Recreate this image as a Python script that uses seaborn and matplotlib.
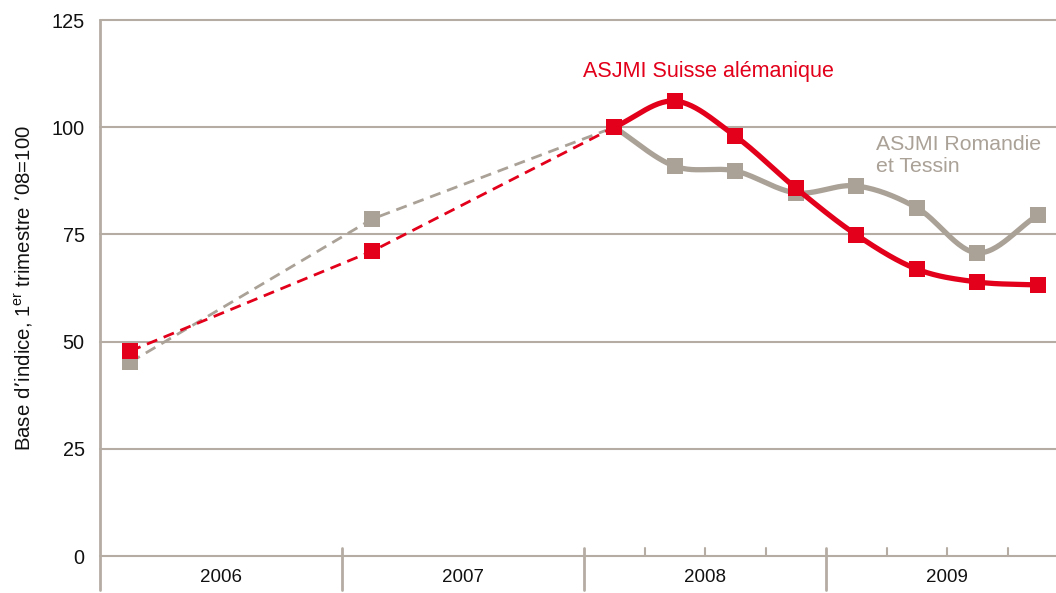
import numpy as np
import pandas as pd
import matplotlib
matplotlib.use('Agg')
import matplotlib.pyplot as plt
import matplotlib.transforms as mtransforms
import seaborn as sns

# Données (base 1er trimestre 2008 = 100)
periods = ["2006T1", "2007T1", "2008T1", "2008T2", "2008T3", "2008T4",
           "2009T1", "2009T2", "2009T3", "2009T4"]
suisse_alemanique = [47.8, 71.1, 100, 106.1, 97.9, 85.8, 74.9, 66.9, 63.9, 63.2]
romandie_tessin = [45.2, 78.6, 100, 90.9, 89.8, 84.7, 86.3, 81.2, 70.7, 79.5]
year_labels = ["2006", "2007", "2008", "2009"]
yticks = [0, 25, 50, 75, 100, 125]

RED = "#e2001a"
GREY = "#aaa197"
GRID = "#b5ada4"


def quarter_pos(p):
    y, q = int(p[:4]), int(p[-1])
    return (y - 2006) * 4 + (q - 1) + 0.5


def catmull_rom(x, y, n=30):
    # courbe lissée passant par les points (pour le tracé uniquement)
    x = np.asarray(x, float)
    y = np.asarray(y, float)
    px = np.concatenate([[2 * x[0] - x[1]], x, [2 * x[-1] - x[-2]]])
    py = np.concatenate([[2 * y[0] - y[1]], y, [2 * y[-1] - y[-2]]])
    xs, ys = [], []
    t = np.linspace(0, 1, n)
    for i in range(1, len(px) - 2):
        for arr, out in ((px, xs), (py, ys)):
            p0, p1, p2, p3 = arr[i - 1], arr[i], arr[i + 1], arr[i + 2]
            out.append(0.5 * ((2 * p1) + (-p0 + p2) * t
                              + (2 * p0 - 5 * p1 + 4 * p2 - p3) * t ** 2
                              + (-p0 + 3 * p1 - 3 * p2 + p3) * t ** 3))
    return np.concatenate(xs), np.concatenate(ys)


df = pd.DataFrame({
    "periode": periods,
    "x": [quarter_pos(p) for p in periods],
    "alemanique": suisse_alemanique,
    "romandie": romandie_tessin,
})

sns.set_theme(style="white")
plt.rcParams['font.family'] = ['Liberation Sans', 'DejaVu Sans']

fig = plt.figure(figsize=(10.56, 5.93), dpi=100)
ax = fig.add_axes([100 / 1056, 37 / 593, 956 / 1056, 536 / 593])

ax.set_xlim(0, 15.8)
ax.set_ylim(0, 125)

for yv in yticks:
    ax.axhline(yv, color=GRID, lw=1.5, zorder=1, clip_on=False)

dashed = df.iloc[:3]
smooth = df.iloc[2:]

for col, color, z in (("romandie", GREY, 3), ("alemanique", RED, 4)):
    sns.lineplot(x=dashed["x"], y=dashed[col], ax=ax, color=color, lw=2,
                 linestyle=(0, (4, 2.5)), zorder=z)
    sx, sy = catmull_rom(smooth["x"], smooth[col])
    sns.lineplot(x=sx, y=sy, ax=ax, color=color, lw=3.8, sort=False,
                 estimator=None, zorder=z)
    sns.scatterplot(x=df["x"], y=df[col], ax=ax, color=color, marker="s",
                    s=140, linewidth=0, zorder=z + 0.5)

ax.text(10.05, 113.0, "ASJMI Suisse alémanique", color=RED, fontsize=15.5,
        ha="center", va="center")
ax.text(12.83, 93.3, "ASJMI Romandie\net Tessin", color=GREY, fontsize=15.3,
        ha="left", va="center", linespacing=1.2)

# axes
for s in ax.spines.values():
    s.set_visible(False)
ax.set_xticks([])
ax.set_yticks(yticks)
ax.set_yticklabels([str(v) for v in yticks], fontsize=14.3, color="#111111")
ax.tick_params(axis="y", length=0, pad=11)
ax.set_xlabel("")
ax.set_ylabel("Base d’indice, 1$^{\\mathregular{er}}$ trimestre ’08=100",
              fontsize=14.7, labelpad=12, color="#111111")

trans = mtransforms.blended_transform_factory(ax.transData, ax.transAxes)
ax.plot([0, 0], [1, -0.063], color=GRID, lw=2, transform=trans, clip_on=False)
for xv in [4, 8, 12]:
    ax.plot([xv, xv], [0.015, -0.063], color=GRID, lw=2, transform=trans,
            clip_on=False)
for xv in [9, 10, 11, 13, 14, 15]:
    ax.plot([xv, xv], [0.0, 0.014], color=GRID, lw=1.5, transform=trans,
            clip_on=False)
for i, lab in enumerate(year_labels):
    ax.text(i * 4 + 2, -0.041, lab, transform=trans, ha="center",
            va="center", fontsize=13.5, color="#111111")

fig.savefig("out.png", dpi=100)
